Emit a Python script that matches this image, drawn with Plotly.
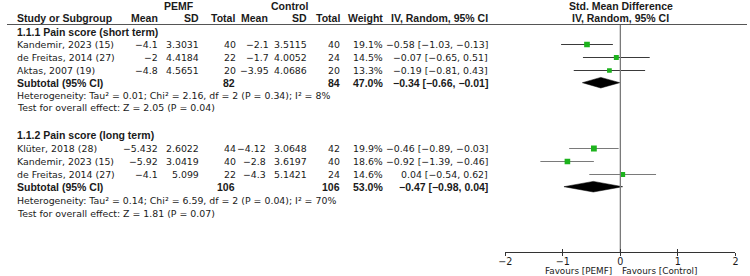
import plotly.graph_objects as go

# ---------------- data ----------------
M = "\u2212"
groups = ["1.1.1 Pain score (short term)", "1.1.2 Pain score (long term)"]
studies = [["Kandemir, 2023 (15)", "de Freitas, 2014 (27)", "Aktas, 2007 (19)"],
           ["Klüter, 2018 (28)", "Kandemir, 2023 (15)", "de Freitas, 2014 (27)"]]
pemf_mean = [[-4.1, -2, -4.8], [-5.432, -5.92, -4.1]]
pemf_sd = [[3.3031, 4.4184, 4.5651], [2.6022, 3.0419, 5.099]]
pemf_n = [[40, 22, 20], [44, 40, 22]]
ctrl_mean = [[-2.1, -1.7, -3.95], [-4.12, -2.8, -4.3]]
ctrl_sd = [[3.5115, 4.0052, 4.0686], [3.0648, 3.6197, 5.1421]]
ctrl_n = [[40, 24, 20], [42, 40, 24]]
weight = [[19.1, 14.5, 13.3], [19.9, 18.6, 14.6]]
smd = [[-0.58, -0.07, -0.19], [-0.46, -0.92, 0.04]]
ci_lo = [[-1.03, -0.65, -0.81], [-0.89, -1.39, -0.54]]
ci_hi = [[-0.13, 0.51, 0.43], [-0.03, -0.46, 0.62]]
sub_pemf_n = [82, 106]
sub_ctrl_n = [84, 106]
sub_weight = [47.0, 53.0]
sub_smd = [-0.34, -0.47]
sub_lo = [-0.66, -0.98]
sub_hi = [-0.01, 0.04]
heterogeneity = ["Heterogeneity: Tau² = 0.01; Chi² = 2.16, df = 2 (P = 0.34); I² = 8%",
                 "Heterogeneity: Tau² = 0.14; Chi² = 6.59, df = 2 (P = 0.04); I² = 70%"]
overall = ["Test for overall effect: Z = 2.05 (P = 0.04)",
           "Test for overall effect: Z = 1.81 (P = 0.07)"]
x_ticks = [-2, -1, 0, 1, 2]
favours = ["Favours [PEMF]", "Favours [Control]"]

# ---------------- layout constants (pixels) ----------------
W, H = 750, 276
FONT = "DejaVu Sans, sans-serif"
FONTB = "Liberation Sans, Arial, sans-serif"
FS = 9.4
FSB = 10.5
TXT = "#1a1a1a"
title_y = [32, 134.5]
rows_y = [[44.5, 57.5, 70.5], [148.5, 161.5, 174.5]]
sub_y = [82.7, 186.7]
het_y = [95.5, 200]
test_y = [108, 213]
ctrl_mean_x = [268, 265]
axis_y = 252
line_colors = ["#3a3a3a", "#7a7a7a"]


def fmt(v):
    return f"{v:g}".replace("-", M)


def fmt2(v):
    return f"{v:.2f}".replace("-", M)


def ci_text(e, lo, hi):
    return f"{fmt2(e)} [{fmt2(lo)}, {fmt2(hi)}]"


fig = go.Figure()
ann = []


def txt(x, y, s, anchor="left", bold=False):
    fam, size = FONT, FS
    if bold:
        s = f"<b>{s}</b>"
        fam, size = FONTB, FSB
    ann.append(dict(x=x / W, y=1 - y / H, xref="paper", yref="paper", text=s, showarrow=False,
                    xanchor=anchor, yanchor="middle",
                    font=dict(family=fam, size=size, color=TXT)))


# headers
txt(174, 6, "PEMF", "center", True)
txt(286, 6, "Control", "center", True)
txt(622, 6, "Std. Mean Difference", "center", True)
txt(8, 18.5, "Study or Subgroup", "left", True)
for x, s in [(155, "Mean"), (197, "SD"), (233, "Total"), (267, "Mean"), (306, "SD"),
             (340, "Total"), (383, "Weight"), (490, "IV, Random, 95% CI")]:
    txt(x, 18.5, s, "right", True)
txt(622, 18.5, "IV, Random, 95% CI", "center", True)

for g in range(2):
    txt(8, title_y[g], groups[g], "left", True)
    for i, name in enumerate(studies[g]):
        y = rows_y[g][i]
        txt(8, y, name)
        txt(155, y, fmt(pemf_mean[g][i]), "right")
        txt(197, y, f"{pemf_sd[g][i]:g}", "right")
        txt(234, y, str(pemf_n[g][i]), "right")
        txt(ctrl_mean_x[g], y, fmt(ctrl_mean[g][i]), "right")
        txt(306, y, f"{ctrl_sd[g][i]:g}", "right")
        txt(340, y, str(ctrl_n[g][i]), "right")
        txt(383, y, f"{weight[g][i]:.1f}%", "right")
        txt(490, y, ci_text(smd[g][i], ci_lo[g][i], ci_hi[g][i]), "right")
        fig.add_trace(go.Scatter(x=[ci_lo[g][i], ci_hi[g][i]], y=[y, y], mode="lines",
                                 line=dict(color=line_colors[g], width=1.2),
                                 hoverinfo="skip", showlegend=False))
        fig.add_trace(go.Scatter(x=[smd[g][i]], y=[y], mode="markers",
                                 marker=dict(symbol="square", size=1.3 * weight[g][i] ** 0.5,
                                             color="#1db31d", line=dict(width=0)),
                                 hoverinfo="skip", showlegend=False))
    ys = sub_y[g]
    txt(8, ys, "Subtotal (95% CI)", "left", True)
    txt(233, ys, str(sub_pemf_n[g]), "right", True)
    txt(340, ys, str(sub_ctrl_n[g]), "right", True)
    txt(383, ys, f"{sub_weight[g]:.1f}%", "right", True)
    txt(490, ys, ci_text(sub_smd[g], sub_lo[g], sub_hi[g]), "right", True)
    txt(8, het_y[g], heterogeneity[g])
    txt(8, test_y[g], overall[g])
    hh = 5.3
    fig.add_trace(go.Scatter(x=[sub_lo[g], sub_smd[g], sub_hi[g], sub_smd[g], sub_lo[g]],
                             y=[ys, ys - hh, ys, ys + hh, ys], mode="lines", fill="toself",
                             fillcolor="#000", line=dict(color="#000", width=0.5),
                             hoverinfo="skip", showlegend=False))

# zero line
fig.add_trace(go.Scatter(x=[0, 0], y=[24.5, axis_y], mode="lines",
                         line=dict(color="#7a7a7a", width=1.3), hoverinfo="skip", showlegend=False))

# favours labels
for k, (anc, sh) in enumerate([("right", -6), ("left", 0)]):
    ann.append(dict(x=0, y=1 - 271 / H, xref="x", yref="paper", text=favours[k], showarrow=False,
                    xanchor=anc, yanchor="middle", xshift=sh,
                    font=dict(family=FONT, size=8.8, color=TXT)))

axis_common = dict(range=[-2, 2], anchor="free", position=(H - axis_y) / H,
                   showgrid=False, zeroline=False, tickvals=x_ticks, ticklen=3,
                   tickcolor="#333", fixedrange=True)

fig.update_layout(
    width=W, height=H, margin=dict(l=0, r=0, t=0, b=0),
    paper_bgcolor="white", plot_bgcolor="rgba(0,0,0,0)",
    annotations=ann,
    shapes=[dict(type="line", xref="paper", yref="paper", x0=0, x1=1,
                 y0=1 - 24.5 / H, y1=1 - 24.5 / H, line=dict(color="#555", width=1.2))],
    xaxis=dict(domain=[505 / W, 738.3 / W], showline=True, linecolor="#333", linewidth=1,
               ticks="outside", ticklabelstandoff=-3,
               tickfont=dict(family=FONT, size=9.6, color=TXT), **axis_common),
    xaxis2=dict(overlaying="x", ticks="inside", showticklabels=False, showline=False,
                **axis_common),
    yaxis=dict(domain=[0, 1], range=[H, 0], visible=False, fixedrange=True),
)
fig.add_trace(go.Scatter(x=[0], y=[0], xaxis="x2", yaxis="y", mode="markers",
                         marker=dict(opacity=0), hoverinfo="skip", showlegend=False))

fig.write_html("out.html", config={"displayModeBar": False},
               post_script="document.body.style.margin='0';document.body.style.overflow='hidden';")
